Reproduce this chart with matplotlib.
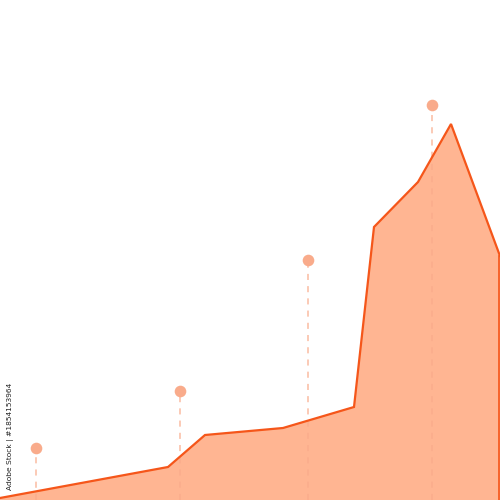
import numpy as np
import matplotlib
matplotlib.use("Agg")
import matplotlib.pyplot as plt

# area series
xs = [0, 168, 205, 283, 354, 374, 418, 451, 500]
ys = [2, 33, 65, 72, 93, 273, 318, 376, 244]

# marker pins
pin_x = [36, 180, 308, 432]
pin_y = [52, 109, 240, 395]

fill_col = "#ffb592"
line_col = "#f5561a"
pin_col = "#f9ab8b"

fig = plt.figure(figsize=(5, 5), dpi=100)
ax = fig.add_axes([0, 0, 1, 1])
ax.set_xlim(0, 500)
ax.set_ylim(0, 500)
ax.axis("off")

ax.fill_between(xs, ys, 0, color=fill_col, lw=0, zorder=1)
ax.plot(xs, ys, color=line_col, lw=1.6, zorder=3, solid_joinstyle="miter")
ax.plot([xs[-1] - 0.8, xs[-1] - 0.8], [0, ys[-1]], color=line_col, lw=1.2, zorder=3)

for px, py in zip(pin_x, pin_y):
    ax.plot([px, px], [0, py], color=pin_col, lw=1.1, ls=(0, (4, 4)), alpha=0.8, zorder=2)
ax.scatter(pin_x, pin_y, s=70, color=pin_col, zorder=4, lw=0)

fig.text(0.022, 0.128, "Adobe Stock | #1854153964", rotation=90, fontsize=5.4,
         color="#222222", ha="center", va="center")

fig.savefig("out.png", dpi=100)
